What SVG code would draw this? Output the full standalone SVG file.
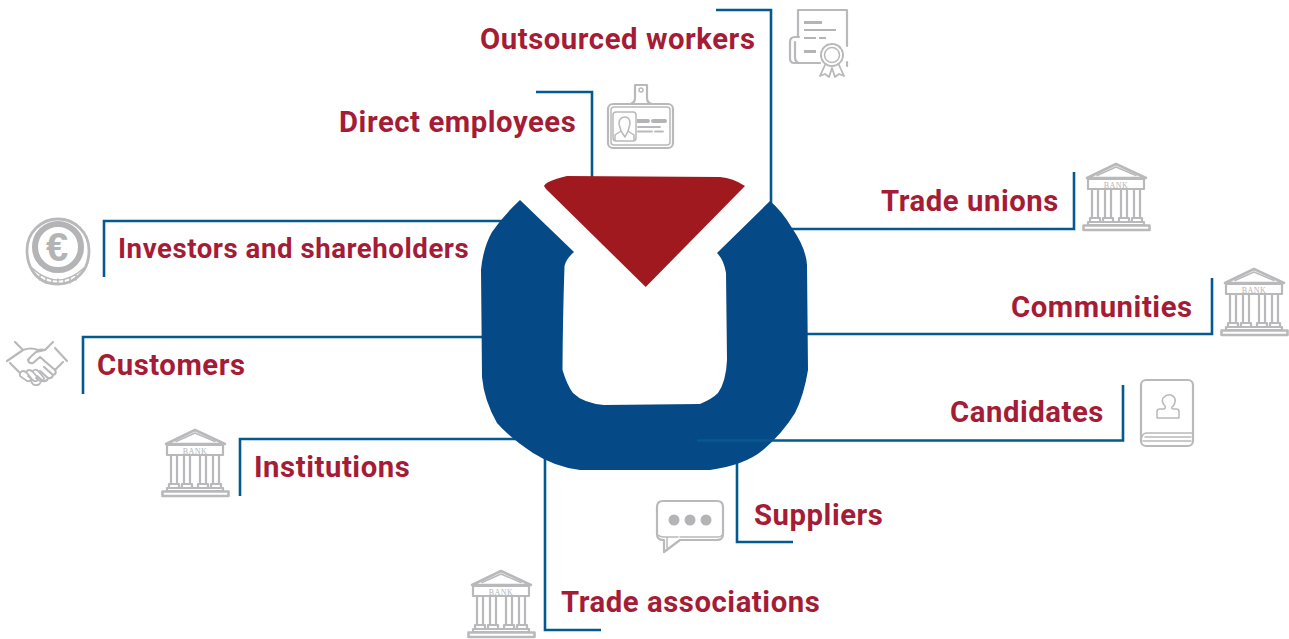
<svg xmlns="http://www.w3.org/2000/svg" xmlns:xlink="http://www.w3.org/1999/xlink" width="1289" height="639" viewBox="0 0 1289 639">
<style>
.lbl{font-family:Roboto,"Liberation Sans",sans-serif;font-weight:700;font-size:29.300px;fill:#a51c36;letter-spacing:.55px}
.con{fill:none;stroke:#045a8d;stroke-width:2.6}
.ic{fill:none;stroke:#b9b9bb;stroke-width:2.200;stroke-linejoin:round;stroke-linecap:round}
.ict{fill:none;stroke:#b9b9bb;stroke-width:1.500;stroke-linejoin:round;stroke-linecap:round}
.icf{fill:#b4b4b6}
.bk{font-family:"Liberation Serif",serif;font-size:8px;fill:#b4b4b6;letter-spacing:.4px}
</style>
<defs>
<g id="bank">
<path class="ic" style="stroke-width:2.600" d="M4 15L33 1L63 15Z"/>
<path class="ict" d="M14 12.500L33 4L53 12.500"/>
<rect class="ic" x="5" y="16" width="56" height="10"/>
<text class="bk" x="33" y="24.500" text-anchor="middle">BANK</text>
<path class="ic" d="M9 26V55M15 26V55M22 26V55M28 26V55M38 26V55M44 26V55M51 26V55M57 26V55"/>
<path class="ic" d="M7 55H17V59H7ZM20 55H30V59H20ZM36 55H46V59H36ZM49 55H59V59H49Z"/>
<path class="ic" d="M5 59H61V62H5Z"/>
<path class="ic" style="stroke-width:2.600" d="M0.500 62.500H66.500V67H0.500Z"/>
</g>
</defs>
<g id="connectors">
<path class="con" d="M716 10H771V206"/>
<path class="con" d="M536 92H592V178"/>
<path class="con" d="M104 277V221H506"/>
<path class="con" d="M83 394V337H485"/>
<path class="con" d="M240 496V439H516"/>
<path class="con" d="M601 630H545V458"/>
<path class="con" d="M793 542H737V458"/>
<path class="con" d="M790 229H1074V172"/>
<path class="con" d="M805 334H1212V278"/>
</g>
<g id="logo">
<path fill="#054a86" d="M520 200L574 252Q566 259 564.500 266Q562.700 320 562.500 370Q567 385 573 393Q583 403 604 405L700 404Q712 399 718 393Q726 382 727 360L726 273Q724 260 717 253L770 201Q782 211 792 228Q806 248 807 265L808 370Q804 395 795 413Q782 434 763 450Q745 465 710 470H580Q555 467 533 453Q510 438 497 423Q484 400 482 377L481 270Q483 248 492 232Q503 216 520 200Z"/>
<path fill="#a0191f" d="M544 186Q546 181 567 176L720 177Q733 178 745 186L645.700 287L546 189Z"/>
</g>
<g id="candidates">
<path class="con" d="M697 440.500H1123V385"/>
<text class="lbl" x="950" y="422.400">Candidates</text>
<rect class="ic" x="1141" y="380" width="52" height="66" rx="5"/>
<path class="ict" d="M1142 437Q1143 433 1147 433H1192M1145 437H1191M1143 441H1191"/>
<path class="ict" d="M1157 418V411Q1157 409 1160 409H1164Q1166 408 1165 406Q1161 402 1163 398Q1167 394 1171 395Q1176 397 1175 402Q1174 406 1172 407Q1171 409 1174 409H1176Q1179 409 1179 411V418Z"/>
</g>
<g id="outsourced-workers">
<text class="lbl" x="480" y="49.400">Outsourced workers</text>
<path class="ic" d="M799 63H794Q790 63 790 58V42Q790 37 795 37H799M799 63Q795 62 795 57V42M798 37V10H847V46M847 62V66M799 63H820"/>
<path class="icf" d="M804 21H822V24H804ZM804 29H836V31H804ZM804 37H816V39H804ZM819 37H826V39H819ZM804 50H816V53H804Z"/>
<circle class="ict" cx="832" cy="55" r="7.500"/>
<circle class="ict" style="stroke-width:2" cx="832" cy="55" r="11" stroke-dasharray="3 1.500"/>
<path class="ict" style="stroke-width:1.800" d="M825 65L820 76L825 74L829 77L832 68L835 77L839 74L844 76L839 65"/>
</g>
<g id="direct-employees">
<text class="lbl" x="339" y="132.400">Direct employees</text>
<rect class="ic" x="608" y="104" width="65" height="44" rx="5"/>
<rect class="ict" x="611" y="107" width="59" height="38" rx="3"/>
<path class="ic" d="M630 104Q635 103 635 98V85H647V98Q647 103 652 104"/>
<circle class="ict" cx="641" cy="90" r="2"/>
<rect class="ict" x="613" y="112" width="23" height="29" rx="3"/>
<path class="ict" d="M615 140V135L621 131L619 124Q619 117 625 117Q630 117 630 124L628 131L634 135V140M621 131L625 137L628 131"/>
<path class="icf" d="M637 119h11a2 2 0 0 1 0 4h-11zM651 121q0-2 2-2h12q2 0 2 2t-2 2h-12q-2 0-2-2z"/>
<path class="ict" style="stroke-width:1.800" d="M638 127H660M638 131.500H652M655 131.500H663"/>
</g>
<g id="trade-unions">
<text class="lbl" x="881" y="211.400">Trade unions</text>
<use xlink:href="#bank" href="#bank" x="1083" y="163"/>
</g>
<g id="communities">
<text class="lbl" x="1011" y="317.400">Communities</text>
<use xlink:href="#bank" href="#bank" x="1221" y="268"/>
</g>
<g id="investors-and-shareholders">
<text class="lbl" style="font-size:27.600px" x="118" y="258">Investors and shareholders</text>
<path class="ic" style="stroke-width:2.800" d="M27 250A31 31 0 1 1 89 250Q89 262 84 270Q74 284 58 284Q40 284 32 270Q27 262 27 250Z"/>
<circle cx="58" cy="247" r="23" fill="none" stroke="#b4b4b6" stroke-width="6"/>
<path class="ict" d="M32 268Q58 292 84 268M40 274V280M46 277V283M52 279V284M58 279V284M64 279V284M70 277V283M76 274V280"/>
<text x="57" y="261" text-anchor="middle" font-family="Liberation Sans,sans-serif" font-weight="700" font-size="40" fill="#b4b4b6">€</text>
</g>
<g id="customers">
<text class="lbl" x="97" y="375.400">Customers</text>
<path class="ic" d="M15 342L23 350Q31 347 38 350Q42 349 45 350L53 342M7 361L23 350M67 361L55 348M45 350L36 352Q31 356 28 360Q29 364 33 363L40 357L55 370Q57 374 53 375L44 367M53 375Q52 379 48 378L40 371M48 378Q47 382 43 381L37 376M63 362L55 370M10 363L20 373"/>
<path class="ict" style="stroke-width:1.800" d="M20 373Q23 369 27 373L31 378Q31 382 27 381L20 376ZM26 372Q29 368 33 372L38 378Q38 382 34 381L28 376M33 371Q36 368 39 372L44 378Q44 382 40 381L36 378M31 380Q32 386 37 385Q40 385 41 381"/>
</g>
<g id="institutions">
<text class="lbl" x="254" y="477.400">Institutions</text>
<use xlink:href="#bank" href="#bank" x="162" y="429"/>
</g>
<g id="trade-associations">
<text class="lbl" x="561" y="612.400">Trade associations</text>
<use xlink:href="#bank" href="#bank" x="468" y="570"/>
</g>
<g id="suppliers">
<text class="lbl" x="754" y="525.400">Suppliers</text>
<path class="ic" d="M663 501H717Q723 501 723 507V534Q723 540 717 540H680L664 552V540H663Q657 540 657 534V507Q657 501 663 501Z"/>
<path class="ict" d="M658 535Q660 537 664 537H667V548M667 537H678M680 537H718Q721 537 722 535"/>
<circle class="icf" cx="674" cy="520" r="5.500"/>
<circle class="icf" cx="690" cy="520" r="5.500"/>
<circle class="icf" cx="706" cy="520" r="5.500"/>
</g>
</svg>
